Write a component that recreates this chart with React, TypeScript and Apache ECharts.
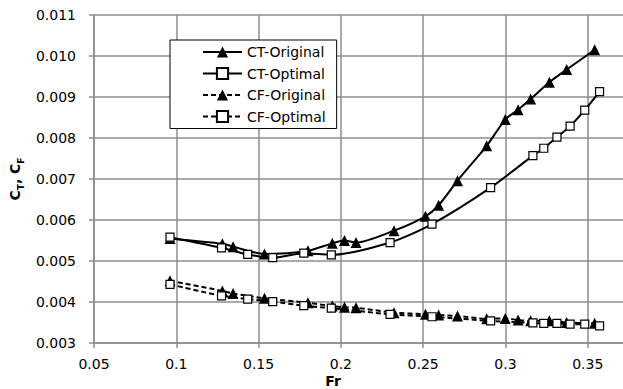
import React, { useEffect, useRef } from "react";
import * as echarts from "echarts";

const xTicks = [0.05, 0.1, 0.15, 0.2, 0.25, 0.3, 0.35, 0.4];
const yTicks = [0.003, 0.004, 0.005, 0.006, 0.007, 0.008, 0.009, 0.01, 0.011];

const frOriginal = [0.0962, 0.128, 0.1345, 0.1536, 0.18, 0.1948, 0.2022, 0.2092, 0.2323, 0.2514, 0.2594, 0.2709, 0.2886, 0.2999, 0.3077, 0.3153, 0.3267, 0.3372, 0.3542];
const ctOriginal = [0.00555, 0.00542, 0.00535, 0.00517, 0.00525, 0.00543, 0.0055, 0.00545, 0.00574, 0.00609, 0.00636, 0.00696, 0.00781, 0.00845, 0.00869, 0.00895, 0.00936, 0.00967, 0.01015];
const cfOriginal = [0.00452, 0.00427, 0.00421, 0.00409, 0.00398, 0.0039, 0.00387, 0.00386, 0.00374, 0.0037, 0.00368, 0.00366, 0.00359, 0.0036, 0.00356, 0.00354, 0.00354, 0.0035, 0.00348];

const frOptimal = [0.0962, 0.1275, 0.1434, 0.1586, 0.1775, 0.1942, 0.2299, 0.2554, 0.291, 0.3167, 0.3233, 0.3313, 0.3393, 0.3482, 0.3572];
const ctOptimal = [0.00558, 0.00532, 0.00516, 0.00508, 0.00519, 0.00515, 0.00545, 0.0059, 0.00679, 0.00757, 0.00775, 0.00802, 0.00829, 0.00868, 0.00913];
const cfOptimal = [0.00443, 0.00415, 0.00407, 0.00401, 0.00391, 0.00385, 0.0037, 0.00364, 0.00354, 0.00349, 0.00348, 0.00348, 0.00346, 0.00346, 0.00342];

const seriesNames = ["CT-Original", "CT-Optimal", "CF-Original", "CF-Optimal"];

const FONT = "DejaVu Sans";
const GRID_COLOR = "#8e8e8e";

function zip(xs: number[], ys: number[]) {
  return xs.map((x, i) => [x, ys[i]]);
}

export default function App() {
  const ref = useRef<HTMLDivElement>(null);
  useEffect(() => {
    if (!ref.current) return;
    const chart = echarts.init(ref.current, null, { renderer: "svg" });
    const tri = {
      symbol: "triangle",
      symbolSize: 11,
      itemStyle: { color: "#000", borderColor: "#000", borderWidth: 0 },
    };
    const sq = {
      symbol: "rect",
      symbolSize: 8,
      itemStyle: { color: "#fff", borderColor: "#000", borderWidth: 1.2 },
    };
    const solid = { color: "#000", width: 2, type: "solid" as const };
    const dashed = { color: "#000", width: 2, type: [5, 3] as any };
    chart.setOption({
      animation: false,
      grid: { left: 89, top: 15, width: 581, height: 328, containLabel: false },
      xAxis: {
        type: "value",
        min: xTicks[0],
        max: xTicks[xTicks.length - 1],
        interval: 0.05,
        axisLine: { show: true, lineStyle: { color: GRID_COLOR, width: 1.5 } },
        axisTick: { show: true, length: 5, lineStyle: { color: GRID_COLOR, width: 1.5 } },
        splitLine: { show: true, lineStyle: { color: GRID_COLOR, width: 1.5 } },
        axisLabel: {
          margin: 14,
          color: "#000",
          fontFamily: FONT,
          fontSize: 14,
          showMaxLabel: false,
          formatter: (v: number) => String(+v.toFixed(2)),
        },
      },
      yAxis: {
        type: "value",
        min: yTicks[0],
        max: yTicks[yTicks.length - 1],
        interval: 0.001,
        name: "{c|C}{s|T}{c|, C}{s|F}",
        nameLocation: "middle",
        nameRotate: 90,
        nameGap: 66,
        nameTextStyle: {
          color: "#000",
          fontFamily: FONT,
          fontWeight: "bold",
          fontSize: 14,
          rich: {
            c: { fontFamily: FONT, fontWeight: "bold", fontSize: 14, lineHeight: 20, verticalAlign: "middle" },
            s: { fontFamily: FONT, fontWeight: "bold", fontSize: 9, lineHeight: 20, verticalAlign: "bottom", padding: [6, 0, 0, 0] },
          },
        },
        axisLine: { show: true, lineStyle: { color: GRID_COLOR, width: 1.5 } },
        axisTick: { show: true, length: 5, lineStyle: { color: GRID_COLOR, width: 1.5 } },
        splitLine: { show: true, lineStyle: { color: GRID_COLOR, width: 1.5 } },
        axisLabel: {
          margin: 18,
          color: "#000",
          fontFamily: FONT,
          fontSize: 14,
          formatter: (v: number) => v.toFixed(3),
        },
      },
      legend: {
        orient: "vertical",
        left: 170,
        top: 40,
        data: seriesNames,
        padding: [5, 11, 5, 32],
        itemWidth: 39,
        itemHeight: 14,
        itemGap: 7.5,
        backgroundColor: "#fff",
        borderColor: "#000",
        borderWidth: 1,
        borderRadius: 0,
        textStyle: { color: "#000", fontFamily: FONT, fontSize: 14 },
      },
      graphic: [
        {
          type: "text",
          x: 333,
          y: 388,
          style: {
            text: "Fr",
            fill: "#000",
            fontFamily: FONT,
            fontWeight: "bold",
            fontSize: 14,
            lineHeight: 14,
            align: "center",
            verticalAlign: "bottom",
          },
        },
      ],
      series: [
        {
          name: seriesNames[0],
          type: "line",
          smooth: 0.25,
          data: zip(frOriginal, ctOriginal),
          lineStyle: solid,
          ...tri,
        },
        {
          name: seriesNames[1],
          type: "line",
          smooth: 0.25,
          data: zip(frOptimal, ctOptimal),
          lineStyle: solid,
          ...sq,
        },
        {
          name: seriesNames[2],
          type: "line",
          smooth: 0.25,
          data: zip(frOriginal, cfOriginal),
          lineStyle: dashed,
          ...tri,
        },
        {
          name: seriesNames[3],
          type: "line",
          smooth: 0.25,
          data: zip(frOptimal, cfOptimal),
          lineStyle: dashed,
          ...sq,
        },
      ],
    });
    return () => chart.dispose();
  }, []);
  return (
    <div
      style={{
        position: "fixed",
        left: 0,
        top: 0,
        width: 623,
        height: 389,
        overflow: "hidden",
        background: "#fff",
      }}
    >
      <div ref={ref} style={{ width: 700, height: 389 }} />
    </div>
  );
}
